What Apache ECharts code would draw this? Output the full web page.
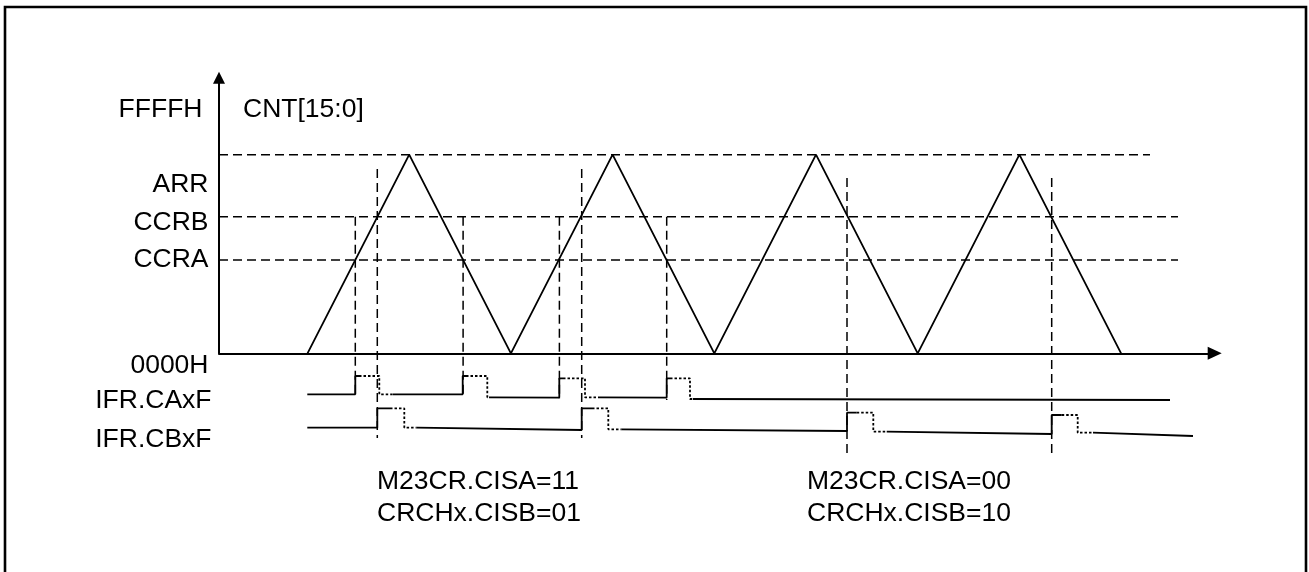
<!DOCTYPE html>
<html><head><meta charset="utf-8">
<script src="https://cdn.jsdelivr.net/npm/echarts@6/dist/echarts.min.js"></script>
<style>html,body{margin:0;padding:0;background:#fff}#c{width:1309px;height:572px}</style>
</head><body><div id="c"></div>
<script>
// ---- data (time units along x, counter units along y; 0 = 0000H) ----
const levelNames = ['ARR', 'CCRB', 'CCRA'];
const levelValues = [198.6, 136.6, 93.3];
const levelEndTimes = [931, 959, 959];

const cntTimes  = [88.5, 190.2, 291.9, 393.6, 495.3, 597.0, 698.7, 800.4, 902.1];
const cntValues = [0, 198.6, 0, 198.6, 0, 198.6, 0, 198.6, 0];

// capture events (vertical dashed markers)
const caEventTimes = [136.3, 244.1, 340.4, 447.7];
const caMarkTop    = [136.6, 136.6, 136.6, 136.6];
const caMarkBottom = [-44.7, -44.7, -45.7, -46.7];
const cbEventTimes = [158.3, 362.7, 628.0, 832.7];
const cbMarkTop    = [184.3, 184.3, 175.3, 175.3];
const cbMarkBottom = [-84.7, -84.7, -101.7, -101.7];

// IFR.CAxF flag trace: solid segments and dotted (cleared) segments
const caSolidT = [[88.3, 136.3, 136.3, 140], [174, 243.7, 243.7, 247], [270, 340.3, 340.3, 344], [379, 447.7, 447.7, 451], [474, 951]];
const caSolidV = [[-41, -41, -22.7, -22.7], [-41, -41, -22.7, -22.7], [-44, -44.3, -25, -25], [-44, -44.3, -25, -25], [-45.7, -46.7]];
const caDotT = [[140, 160.3, 160.3, 174], [247, 268.3, 268.3, 270], [344, 366, 366, 379], [451, 471, 471, 474]];
const caDotV = [[-22.7, -22.7, -41, -41], [-22.7, -22.7, -44, -44], [-25, -25, -44, -44], [-25, -25, -45.7, -45.7]];

// IFR.CBxF flag trace
const cbSolidT = [[88.3, 158.3, 158.3, 171], [197.7, 362.7, 362.7, 373], [402.7, 628, 628, 637.7], [667.7, 832.7, 832.7, 842.7], [874, 974]];
const cbSolidV = [[-74.4, -74.4, -55, -55], [-74.4, -76.7, -55, -55], [-76, -77.7, -59.4, -59.4], [-78.4, -80.7, -61.7, -61.7], [-79.4, -82.7]];
const cbDotT = [[171, 185.3, 185.3, 197.7], [373, 389.3, 389.3, 402.7], [637.7, 654.3, 654.3, 667.7], [842.7, 858.7, 858.7, 874]];
const cbDotV = [[-55, -55, -74.4, -74.4], [-55, -55, -76, -76], [-59.4, -59.4, -78.4, -78.4], [-61.7, -61.7, -79.4, -79.4]];

const sideLabels = ['FFFFH', 'ARR', 'CCRB', 'CCRA', '0000H', 'IFR.CAxF', 'IFR.CBxF'];
const axisTitle = 'CNT[15:0]';
const noteGroups = [['M23CR.CISA=11', 'CRCHx.CISB=01'], ['M23CR.CISA=00', 'CRCHx.CISB=10']];

// ---- layout ----
const X_MAX = 995.7, Y_MAX = 275.6, Y_MIN2 = -120;
const sideLabelX = [202.5, 208.5, 208.5, 208.5, 208.5, 211.5, 211.5];
const sideLabelY = [110, 184.7, 223, 259.7, 366, 400.5, 439.5];
const noteX = [377, 807];
const noteY = [481.5, 514];
const FONT = '26.5px "Liberation Sans", Arial, sans-serif';

const zip = (a, b) => a.map((t, i) => [t, b[i]]);
const series = [];
const base = { type: 'line', showSymbol: false, symbol: 'none', silent: true, animation: false, clip: false };
const DASH = [9, 5];

// counter triangle
series.push(Object.assign({}, base, { xAxisIndex: 0, yAxisIndex: 0, data: zip(cntTimes, cntValues),
  lineStyle: { color: '#000', width: 1.8 } }));
// level dashed lines
levelValues.forEach((v, i) => series.push(Object.assign({}, base, { xAxisIndex: 0, yAxisIndex: 0,
  data: [[0, v], [levelEndTimes[i], v]], lineStyle: { color: '#000', width: 1.5, type: DASH } })));
// vertical event markers
caEventTimes.forEach((t, i) => series.push(Object.assign({}, base, { xAxisIndex: 1, yAxisIndex: 1,
  data: [[t, caMarkTop[i]], [t, caMarkBottom[i]]], lineStyle: { color: '#000', width: 1.5, type: DASH } })));
cbEventTimes.forEach((t, i) => series.push(Object.assign({}, base, { xAxisIndex: 1, yAxisIndex: 1,
  data: [[t, cbMarkTop[i]], [t, cbMarkBottom[i]]], lineStyle: { color: '#000', width: 1.5, type: DASH } })));
// flag traces
function addTrace(T, V, dotted) {
  T.forEach((ts, i) => series.push(Object.assign({}, base, { xAxisIndex: 1, yAxisIndex: 1,
    data: zip(ts, V[i]), lineStyle: { color: '#000', width: dotted ? 1.8 : 1.8, type: dotted ? [2.5, 2] : 'solid' } })));
}
addTrace(caSolidT, caSolidV, false);
addTrace(caDotT, caDotV, true);
addTrace(cbSolidT, cbSolidV, false);
addTrace(cbDotT, cbDotV, true);

const graphic = [
  { type: 'rect', shape: { x: 5, y: 7, width: 1301, height: 620 }, style: { fill: 'none', stroke: '#000', lineWidth: 2.6 }, silent: true },
  { type: 'text', style: { text: axisTitle, x: 243, y: 110, font: FONT, fill: '#000', textAlign: 'left', align: 'left', textVerticalAlign: 'middle', verticalAlign: 'middle' } }
];
sideLabels.forEach((s, i) => graphic.push({ type: 'text', style: { text: s, x: sideLabelX[i], y: sideLabelY[i], font: FONT, fill: '#000',
  textAlign: 'right', align: 'right', textVerticalAlign: 'middle', verticalAlign: 'middle' } }));
noteGroups.forEach((g, gi) => g.forEach((s, li) => graphic.push({ type: 'text', style: { text: s, x: noteX[gi], y: noteY[li],
  font: FONT, fill: '#000', textAlign: 'left', align: 'left', textVerticalAlign: 'middle', verticalAlign: 'middle' } })));

const chart = echarts.init(document.getElementById('c'), null, { renderer: 'canvas' });
chart.setOption({
  backgroundColor: '#fff',
  animation: false,
  grid: [
    { left: 219, right: 94.3, top: 77.7, bottom: 218.7, containLabel: false },
    { left: 219, right: 94.3, top: 77.7, bottom: 572 - (353.3 - Y_MIN2), containLabel: false }
  ],
  xAxis: [
    { gridIndex: 0, type: 'value', min: 0, max: X_MAX, axisLine: { show: true, onZero: false, symbol: ['none', 'triangle'], symbolSize: [13, 14], lineStyle: { color: '#000', width: 2 } },
      axisTick: { show: false }, axisLabel: { show: false }, splitLine: { show: false } },
    { gridIndex: 1, type: 'value', min: 0, max: X_MAX, show: false }
  ],
  yAxis: [
    { gridIndex: 0, type: 'value', min: 0, max: Y_MAX, axisLine: { show: true, onZero: false, symbol: ['none', 'triangle'], symbolSize: [12, 12], lineStyle: { color: '#000', width: 2 } },
      axisTick: { show: false }, axisLabel: { show: false }, splitLine: { show: false } },
    { gridIndex: 1, type: 'value', min: Y_MIN2, max: Y_MAX, show: false }
  ],
  series: series,
  graphic: graphic
});
</script>
</body></html>
